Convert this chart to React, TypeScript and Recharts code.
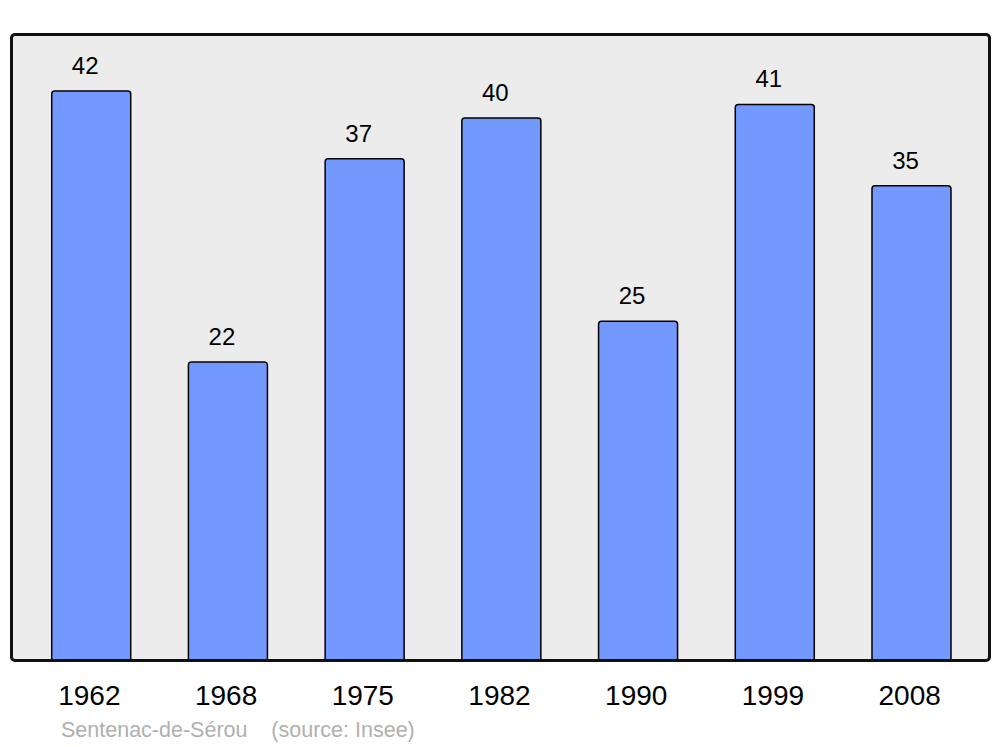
import { BarChart, Bar, XAxis, YAxis, LabelList } from 'recharts'

const years = ['1962', '1968', '1975', '1982', '1990', '1999', '2008']
const population = [42, 22, 37, 40, 25, 41, 35]
const yMax = 46.2

const data = years.map((year, i) => ({ year, population: population[i] }))

const font = '"Liberation Sans", Arial, sans-serif'

// plot frame in page pixels
const frame = { left: 11, top: 34, width: 978, height: 626 }

export default function App() {
  return (
    <div style={{ position: 'absolute', left: 0, top: 0, width: 1000, height: 747, background: '#fff', fontFamily: font }}>
      <div
        style={{
          position: 'absolute',
          ...frame,
          background: '#ececec',
          borderRadius: 4,
        }}
      />
      <div style={{ position: 'absolute', left: 0, top: 0 }}>
        <BarChart
          width={1000}
          height={747}
          data={data}
          margin={{ top: 34, right: 11, bottom: 27, left: 11 }}
          barCategoryGap="21%"
        >
          <YAxis hide domain={[0, yMax]} />
          <XAxis
            dataKey="year"
            height={60}
            axisLine={false}
            tickLine={false}
            tickSize={0}
            tickMargin={25}
            padding={{ left: 12, right: 9 }}
            tick={{ fill: '#000', fontSize: 28, fontFamily: font, dx: -2 }}
          />
          <Bar
            dataKey="population"
            fill="#7399ff"
            stroke="#000"
            strokeWidth={1.5}
            radius={[3, 3, 0, 0]}
            isAnimationActive={false}
          >
            <LabelList
              dataKey="population"
              position="top"
              offset={17}
              dx={-6}
              fill="#000"
              fontSize={24}
              fontFamily={font}
            />
          </Bar>
        </BarChart>
      </div>
      <div
        style={{
          position: 'absolute',
          boxSizing: 'border-box',
          border: '3px solid #111',
          borderRadius: 5,
          pointerEvents: 'none',
          left: frame.left - 1.5,
          top: frame.top - 1.5,
          width: frame.width + 3,
          height: frame.height + 3,
        }}
      />
      <div
        style={{
          position: 'absolute',
          left: 61,
          top: 718,
          fontSize: 21.5,
          lineHeight: '24px',
          color: '#b0b0b0',
          whiteSpace: 'pre',
        }}
      >
        {'Sentenac-de-Sérou    (source: Insee)'}
      </div>
    </div>
  )
}
